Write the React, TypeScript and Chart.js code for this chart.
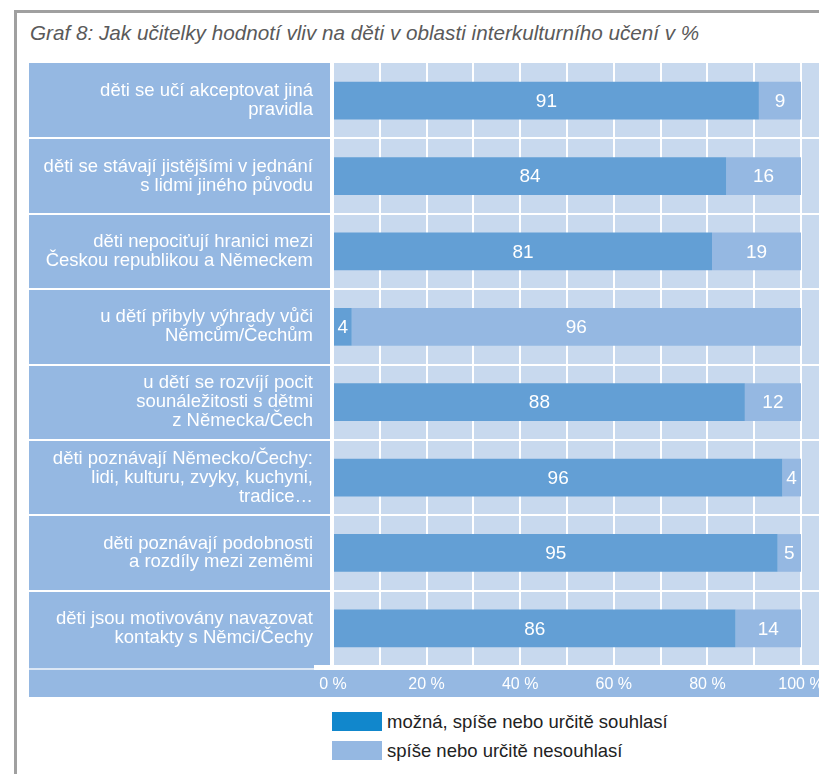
import React, { useEffect, useRef } from "react";
import { Chart, registerables } from "chart.js";

Chart.register(...registerables);

// ---- data ----
const categories: string[][] = [
  ["děti se učí akceptovat jiná", "pravidla"],
  ["děti se stávají jistějšími v jednání", "s lidmi jiného původu"],
  ["děti nepociťují hranici mezi", "Českou republikou a Německem"],
  ["u dětí přibyly výhrady vůči", "Němcům/Čechům"],
  ["u dětí se rozvíjí pocit", "sounáležitosti s dětmi", "z Německa/Čech"],
  ["děti poznávají Německo/Čechy:", "lidi, kulturu, zvyky, kuchyni,", "tradice…"],
  ["děti poznávají podobnosti", "a rozdíly mezi zeměmi"],
  ["děti jsou motivovány navazovat", "kontakty s Němci/Čechy"],
];
const agree: number[] = [91, 84, 81, 4, 88, 96, 95, 86];
const disagree: number[] = [9, 16, 19, 96, 12, 4, 5, 14];
const seriesNames: string[] = ["možná, spíše nebo určitě souhlasí", "spíše nebo určitě nesouhlasí"];
const xTickLabels: number[] = [0, 20, 40, 60, 80, 100];
const titleText = "Graf 8: Jak učitelky hodnotí vliv na děti v oblasti interkulturního učení v %";

// ---- styles ----
const FONT = "'Liberation Sans', Arial, Helvetica, sans-serif";
const DARK = "#639fd5";
const LIGHT = "#95b8e2";
const PANEL = "#95b8e2";
const PLOT_BG = "#c8d9ee";
const LEGEND_COLORS = ["#1187cc", "#95b8e2"];
const PANEL_LEFT = 29;

const backgroundPlugin = {
  id: "bgPanels",
  beforeDraw(chart: any) {
    const { ctx, chartArea: ca, scales } = chart;
    const W = chart.width;
    const y = scales.y;
    ctx.save();
    // label panel
    ctx.fillStyle = PANEL;
    ctx.fillRect(PANEL_LEFT, ca.top, ca.left - 3 - PANEL_LEFT, ca.bottom + 2 - ca.top);
    // plot background
    ctx.fillStyle = PLOT_BG;
    ctx.fillRect(ca.left, ca.top, W - ca.left, ca.bottom - ca.top);
    // axis strip
    ctx.fillStyle = PANEL;
    ctx.fillRect(PANEL_LEFT, ca.bottom + 4, W - PANEL_LEFT, 27);
    // separators between categories
    ctx.strokeStyle = "#ffffff";
    ctx.lineWidth = 2;
    const n = categories.length;
    for (let i = 1; i < n; i++) {
      const yy = Math.round((y.getPixelForValue(i - 1) + y.getPixelForValue(i)) / 2);
      ctx.beginPath();
      ctx.moveTo(PANEL_LEFT, yy);
      ctx.lineTo(W, yy);
      ctx.stroke();
    }
    // bottom white line
    ctx.fillStyle = "#ffffff";
    ctx.fillRect(314, ca.bottom - 1, W - 314, 5);
    ctx.fillStyle = "#dce7f5";
    ctx.fillRect(PANEL_LEFT, ca.bottom + 2, 314 - PANEL_LEFT, 2);
    ctx.restore();
  },
};

const valueLabelPlugin = {
  id: "valueLabels",
  afterDatasetsDraw(chart: any) {
    const { ctx } = chart;
    ctx.save();
    ctx.fillStyle = "#ffffff";
    ctx.font = `19px ${FONT}`;
    ctx.textAlign = "center";
    ctx.textBaseline = "middle";
    chart.data.datasets.forEach((ds: any, di: number) => {
      const meta = chart.getDatasetMeta(di);
      meta.data.forEach((el: any, i: number) => {
        const v = ds.data[i];
        const cx = (el.x + el.base) / 2;
        ctx.fillText(String(v), cx, el.y + 1);
      });
    });
    ctx.restore();
  },
};

function ChartCanvas() {
  const ref = useRef<HTMLCanvasElement | null>(null);
  useEffect(() => {
    if (!ref.current) return;
    const chart = new Chart(ref.current, {
      type: "bar",
      data: {
        labels: categories as any,
        datasets: [
          {
            label: seriesNames[0],
            data: agree,
            backgroundColor: DARK,
            borderWidth: 0,
            categoryPercentage: 1,
            barPercentage: 0.5,
          },
          {
            label: seriesNames[1],
            data: disagree,
            backgroundColor: LIGHT,
            borderWidth: 0,
            categoryPercentage: 1,
            barPercentage: 0.5,
          },
        ],
      },
      options: {
        indexAxis: "y",
        responsive: false,
        animation: false,
        devicePixelRatio: 1,
        layout: { padding: { left: PANEL_LEFT, right: 18, top: 13, bottom: 0 } },
        plugins: {
          legend: { display: false },
          title: { display: false },
          tooltip: { enabled: false },
        },
        scales: {
          x: {
            type: "linear",
            stacked: true,
            min: 0,
            max: 100,
            border: { display: false },
            grid: { color: "#ffffff", lineWidth: 2, drawTicks: false },
            ticks: {
              stepSize: 10,
              autoSkip: false,
              maxRotation: 0,
              padding: 9,
              color: "#ffffff",
              font: { family: FONT, size: 16 },
              callback: (v: any) => (xTickLabels.includes(Number(v)) ? `${v} %` : ""),
            },
            afterFit: (s: any) => {
              s.height = 32;
              s.paddingLeft = 0;
              s.paddingRight = 0;
            },
          },
          y: {
            type: "category",
            stacked: true,
            offset: true,
            border: { display: false },
            grid: { display: false, drawTicks: false },
            ticks: {
              padding: 20,
              color: "#ffffff",
              autoSkip: false,
              font: { family: FONT, size: 18.5, lineHeight: 1.02 },
            },
            afterFit: (s: any) => {
              s.width = 304;
              s.paddingTop = 0;
              s.paddingBottom = 0;
            },
          },
        },
      },
      plugins: [backgroundPlugin, valueLabelPlugin],
    });
    return () => chart.destroy();
  }, []);
  return (
    <canvas
      ref={ref}
      width={819}
      height={648}
      style={{ position: "absolute", left: 0, top: 50, width: 819, height: 648 }}
    />
  );
}

export default function App() {
  return (
    <div
      style={{
        position: "absolute",
        left: 0,
        top: 0,
        width: 819,
        height: 774,
        overflow: "hidden",
        background: "#ffffff",
        fontFamily: FONT,
      }}
    >
      <div
        style={{
          position: "absolute",
          left: 14,
          top: 10,
          width: 900,
          height: 900,
          borderLeft: "3px solid #a0a0a0",
          borderTop: "3px solid #a0a0a0",
          boxSizing: "border-box",
        }}
      />
      <div
        style={{
          position: "absolute",
          left: 30,
          top: 22,
          fontSize: 20.7,
          lineHeight: "22px",
          fontStyle: "italic",
          color: "#5a5a5a",
          whiteSpace: "nowrap",
        }}
      >
        {titleText}
      </div>
      <ChartCanvas />
      {seriesNames.map((name, i) => (
        <div
          key={name}
          style={{ position: "absolute", left: 332, top: 712 + i * 29, height: 19, display: "flex", alignItems: "center" }}
        >
          <div style={{ width: 50, height: 19, background: LEGEND_COLORS[i] }} />
          <span style={{ marginLeft: 5, fontSize: 18.5, color: "#222222", whiteSpace: "nowrap", lineHeight: "19px" }}>
            {name}
          </span>
        </div>
      ))}
    </div>
  );
}
